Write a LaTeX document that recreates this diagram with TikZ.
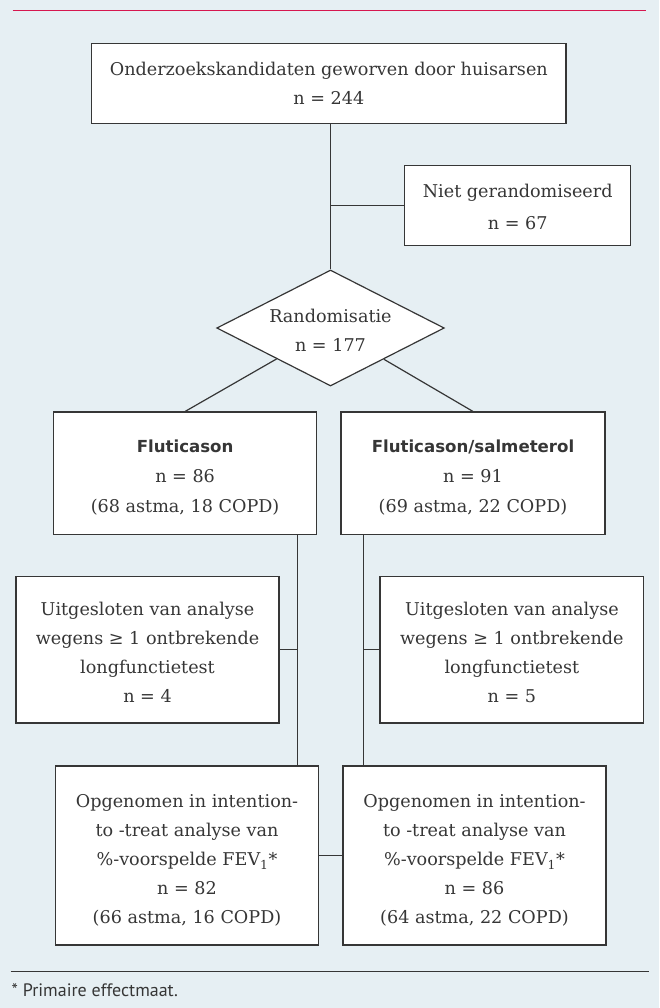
\documentclass[tikz,border=0pt]{standalone}
\usepackage{fontspec}
\setmainfont{DejaVu Serif}
\newfontfamily\ptsans{PT Sans}
\newfontfamily\hdsans{DejaVu Sans}
\usetikzlibrary{shapes.geometric}
\definecolor{bgc}{HTML}{E6EFF3}
\definecolor{redc}{HTML}{D6174F}
\definecolor{inkc}{HTML}{363636}
\begin{document}
\begin{tikzpicture}[x=1pt,y=-1pt,
  boxc/.style={draw=inkc, fill=white, line width=1.2pt, align=center, inner sep=0pt, text=inkc, font=\fontsize{17.6}{29}\selectfont},
  boxw/.style={boxc, font=\fontsize{17.6}{30}\selectfont},
  link/.style={draw=inkc, line width=1.2pt}]
\fill[bgc] (0,0) rectangle (659,1008);
\useasboundingbox (0,0) rectangle (659,1008);
\coordinate (ra) at (12.6,10.7);
\coordinate (rb) at (646,10.7);
\draw[redc, line width=1.5pt] (ra) -- (rb);

\node[boxc, minimum width=474.4pt, minimum height=80.4pt] (top) at (328.8,83.5) {Onderzoekskandidaten geworven door huisarsen\\ n = 244};
\node[boxc, font=\fontsize{17.6}{32}\selectfont, minimum width=226pt, minimum height=80.6pt, text height=47.4pt] (niet) at (517.7,205.5) {Niet gerandomiseerd\\ n = 67};
\node[boxc, diamond, shape aspect=1.96, minimum width=227.6pt, minimum height=116pt, text height=47.4pt] (rand) at (330.5,328) {Randomisatie\\ n = 177};
\node[boxw, minimum width=263.4pt, minimum height=122.3pt, text height=81pt] (flL) at (185.1,473.2) {{\hdsans\bfseries\fontsize{16.6}{30}\selectfont Fluticason}\\ n = 86\\ (68 astma, 18 COPD)};
\node[boxw, minimum width=264pt, minimum height=122.3pt, text height=81pt] (flR) at (473,473.2) {{\hdsans\bfseries\fontsize{16.6}{30}\selectfont Fluticason/salmeterol}\\ n = 91\\ (69 astma, 22 COPD)};
\node[boxc, minimum width=263pt, minimum height=146.3pt, text height=105.4pt] (uitL) at (147.5,649.8) {Uitgesloten van analyse\\ wegens ≥ 1 ontbrekende\\ longfunctietest\\ n = 4};
\node[boxc, minimum width=263.7pt, minimum height=146.3pt, text height=105.4pt] (uitR) at (511.9,649.8) {Uitgesloten van analyse\\ wegens ≥ 1 ontbrekende\\ longfunctietest\\ n = 5};
\node[boxc, minimum width=263pt, minimum height=179pt, text height=139.4pt] (botL) at (187,855.5) {Opgenomen in intention-\\ to -treat analyse van\\ \%-voorspelde FEV\textsubscript{1}*\\ n = 82\\ (66 astma, 16 COPD)};
\node[boxc, minimum width=263pt, minimum height=179pt, text height=139.4pt] (botR) at (474.5,855.5) {Opgenomen in intention-\\ to -treat analyse van\\ \%-voorspelde FEV\textsubscript{1}*\\ n = 86\\ (64 astma, 22 COPD)};

\coordinate (vL) at (297.5,0);
\coordinate (vR) at (363.5,0);
\draw[link] (rand.north |- top.south) -- (rand.north);
\draw[link] (rand.north |- niet.west) -- (niet.west);
\draw[link] (rand) -- (flL.north);
\draw[link] (rand) -- (flR.north);
\draw[link] (vL |- flL.south) -- (vL |- botL.north);
\draw[link] (vR |- flR.south) -- (vR |- botR.north);
\draw[link] (uitL.east) -- (vL |- uitL.east);
\draw[link] (uitR.west) -- (vR |- uitR.west);
\draw[link] (botL.east) -- (botR.west);

\coordinate (fa) at (10.5,971.7);
\coordinate (fb) at (649,971.7);
\draw[inkc, line width=1.1pt] (fa) -- (fb);
\node[anchor=west, inner sep=0pt, font=\ptsans\fontsize{18}{20}\selectfont, text=inkc] (foot) at (11.5,990) {* Primaire effectmaat.};
\end{tikzpicture}
\end{document}
